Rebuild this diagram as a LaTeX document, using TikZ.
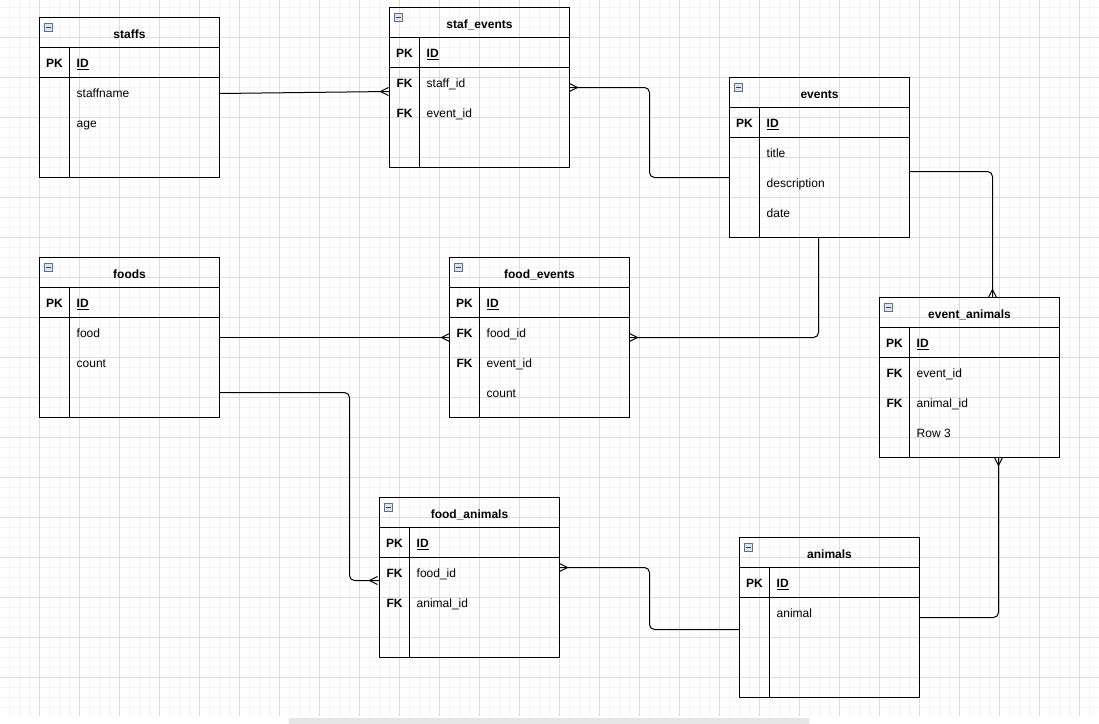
\documentclass[tikz,border=0pt]{standalone}
\usepackage{fontspec}
\setmainfont{Liberation Sans}
\usetikzlibrary{calc}
\definecolor{gridminor}{HTML}{F4F4F4}
\definecolor{gridmajor}{HTML}{DDDDDD}
\definecolor{iconfill}{HTML}{DCE4EE}
\definecolor{iconline}{HTML}{5F7189}
\definecolor{barcol}{HTML}{E6E6E6}
\tikzset{
  tbl/.style={draw, line width=1pt, minimum width=180pt, minimum height=160pt,
    inner sep=0pt, outer sep=0pt, anchor=north west},
  sep/.style={line width=1pt},
  conn/.style={line width=1pt, rounded corners=5pt},
  txt/.style={inner sep=0pt, anchor=base west, font=\fontsize{12}{14}\selectfont},
  keytxt/.style={inner sep=0pt, anchor=base, font=\fontsize{12}{14}\selectfont\bfseries},
  titletxt/.style={inner sep=0pt, anchor=base, font=\fontsize{12}{14}\selectfont\bfseries},
  iconbox/.style={draw=iconline, fill=iconfill, line width=0.8pt},
  crow/.pic={\draw[line width=1pt] (0,-4) -- (8,0) -- (0,4);}
}
\newcommand\ertable[5]{%
  \node[tbl] (#1) at (#2,#3) {};
  \draw[sep] ($(#1.north west)+(0,30)$) -- ($(#1.north east)+(0,30)$);
  \draw[sep] ($(#1.north west)+(0,60)$) -- ($(#1.north east)+(0,60)$);
  \draw[sep] ($(#1.north west)+(30,30)$) -- ($(#1.south west)+(30,0)$);
  \draw[iconbox] ($(#1.north west)+(5,6)$) rectangle ($(#1.north west)+(13,14)$);
  \draw[line width=0.9pt, iconline!60!black] ($(#1.north west)+(6.8,10)$) -- ($(#1.north west)+(11.2,10)$);
  \node[titletxt] (#1-title) at ($(#1.north west)+(90,20.5)$) {#4};
  \node[keytxt] (#1-pk) at ($(#1.north west)+(15,50)$) {PK};
  \node[txt] (#1-id) at ($(#1.north west)+(37,50)$) {\bfseries\underline{ID}};
  \foreach \k/\v [count=\i] in {#5} {
    \node[keytxt] (#1-k\i) at ($(#1.north west)+(15,50+30*\i)$) {\k};
    \node[txt] (#1-r\i) at ($(#1.north west)+(37,50+30*\i)$) {\v};
  }%
}
\begin{document}
\begin{tikzpicture}[x=1pt, y=-1pt]
  \useasboundingbox (0.5,-0.5) rectangle (1099.5,722.5);
  \fill[white] (0.5,-0.5) rectangle (1099.5,722.5);
  % grid
  \foreach \gx in {0,10,...,1100} \draw[gridminor, line width=1.5pt] (\gx,-1) -- (\gx,715);
  \foreach \gy in {7,17,...,707} \draw[gridminor, line width=1.5pt] (0,\gy) -- (1100,\gy);
  \foreach \gx in {0,40,...,1080} \draw[gridmajor, line width=1pt] (\gx,-1) -- (\gx,715);
  \foreach \gy in {37,77,...,697} \draw[gridmajor, line width=1pt] (0,\gy) -- (1100,\gy);
  \fill[white] (0,715.5) rectangle (1100,723);
  \fill[barcol, rounded corners=2pt] (289,717.5) rectangle (810,724);

  % tables
  \ertable{staffs}{40}{17}{staffs}{ /staffname, /age}
  \ertable{staf_events}{390}{7}{staf\_events}{FK/staff\_id, FK/event\_id}
  \ertable{events}{730}{77}{events}{ /title, /description, /date}
  \ertable{foods}{40}{257}{foods}{ /food, /count}
  \ertable{food_events}{450}{257}{food\_events}{FK/food\_id, FK/event\_id, /count}
  \ertable{event_animals}{880}{297}{event\_animals}{FK/event\_id, FK/animal\_id, /Row 3}
  \ertable{food_animals}{380}{497}{food\_animals}{FK/food\_id, FK/animal\_id}
  \ertable{animals}{740}{537}{animals}{ /animal}

  % connectors
  \draw[conn] ($(staffs.north east)+(0,76)$) -- ($(staf_events.north west)+(0,84)$);
  \pic[rotate=180] at ($(staf_events.north west)+(-1,84)$) {crow};

  \draw[conn] ($(staf_events.north east)+(0,80)$) -| ($(events.north west)+(-80,100)$) -- ($(events.north west)+(0,100)$);
  \pic at ($(staf_events.north east)+(0,80)$) {crow};

  \draw[conn] ($(events.south west)+(89,0)$) |- ($(food_events.north east)+(0,80)$);
  \pic at ($(food_events.north east)+(0,80)$) {crow};

  \draw[conn] ($(foods.north east)+(0,80)$) -- ($(food_events.north west)+(0,80)$);
  \pic[rotate=180] at ($(food_events.north west)+(0,80)$) {crow};

  \draw[conn] ($(events.north east)+(0,94)$) -| ($(event_animals.north west)+(113,0)$);
  \pic[rotate=90] at ($(event_animals.north west)+(113,0)$) {crow};

  \draw[conn] ($(foods.north east)+(0,135)$) -| ($(food_animals.north west)+(-30,83)$) -- ($(food_animals.north west)+(0,83)$);
  \pic[rotate=180] at ($(food_animals.north west)+(-2,83)$) {crow};

  \draw[conn] ($(food_animals.north east)+(0,70)$) -| ($(animals.north west)+(-90,92)$) -- ($(animals.north west)+(0,92)$);
  \pic at ($(food_animals.north east)+(0,70)$) {crow};

  \draw[conn] ($(animals.north east)+(0,80)$) -| ($(event_animals.south west)+(119,0)$);
  \pic[rotate=270] at ($(event_animals.south west)+(119,0)$) {crow};
\end{tikzpicture}
\end{document}
